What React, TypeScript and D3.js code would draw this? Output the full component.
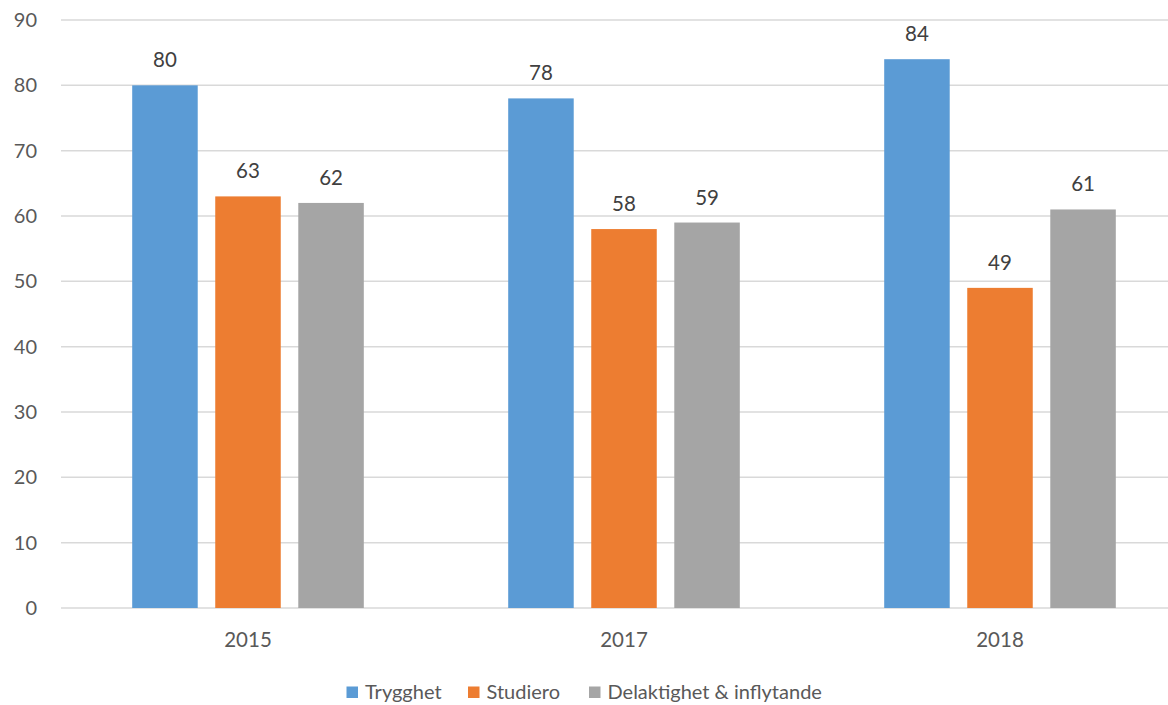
import React from "react";
import * as d3 from "d3";

const categories = ["2015", "2017", "2018"];
const seriesNames = ["Trygghet", "Studiero", "Delaktighet & inflytande"];
const colors = ["#5B9BD5", "#ED7D31", "#A5A5A5"];
const trygghet = [80, 78, 84];
const studiero = [63, 58, 49];
const delaktighet = [62, 59, 61];
const yTicks = [0, 10, 20, 30, 40, 50, 60, 70, 80, 90];

const W = 1168;
const H = 705;
const FONT = "Lato, 'Open Sans', sans-serif";

export default function App() {
  const values = [trygghet, studiero, delaktighet];
  const left = 60;
  const right = 1188;
  const x = d3.scaleBand<string>().domain(categories).range([left, right]).paddingInner(0).paddingOuter(0);
  const inner = d3.scaleBand<string>().domain(seriesNames).range([72.2, 376 - 72.2]).paddingInner(0.211);
  const y = d3.scaleLinear().domain([0, 90]).range([608, 20]);

  return (
    <svg width={W} height={H} style={{ position: "absolute", left: 0, top: 0, background: "#fff" }} fontFamily={FONT}>
      {yTicks.map((t) => (
        <g key={t}>
          <line x1={61} x2={W} y1={y(t)} y2={y(t)} stroke="#D9D9D9" strokeWidth={1.5} />
          <text x={37} y={y(t)} dy="0.35em" textAnchor="end" fontSize={20} fill="#595959">
            {t}
          </text>
        </g>
      ))}
      {categories.map((c, ci) => (
        <g key={c}>
          {seriesNames.map((s, si) => {
            const v = values[si][ci];
            const bx = (x(c) as number) + (inner(s) as number);
            const bw = inner.bandwidth();
            return (
              <g key={s}>
                <rect x={bx} y={y(v)} width={bw} height={y(0) - y(v)} fill={colors[si]} />
                <text x={bx + bw / 2} y={y(v) - 18} textAnchor="middle" fontSize={20.5} fill="#404040">
                  {v}
                </text>
              </g>
            );
          })}
          <text x={(x(c) as number) + x.bandwidth() / 2} y={647} textAnchor="middle" fontSize={20.5} fill="#595959">
            {c}
          </text>
        </g>
      ))}
      {(() => {
        const starts = [346.5, 468, 589];
        return seriesNames.map((s, si) => (
          <g key={s}>
            <rect x={starts[si]} y={686.5} width={11.5} height={11.5} fill={colors[si]} />
            <text x={starts[si] + 18.5} y={699} fontSize={20} fill="#595959">
              {s}
            </text>
          </g>
        ));
      })()}
    </svg>
  );
}
